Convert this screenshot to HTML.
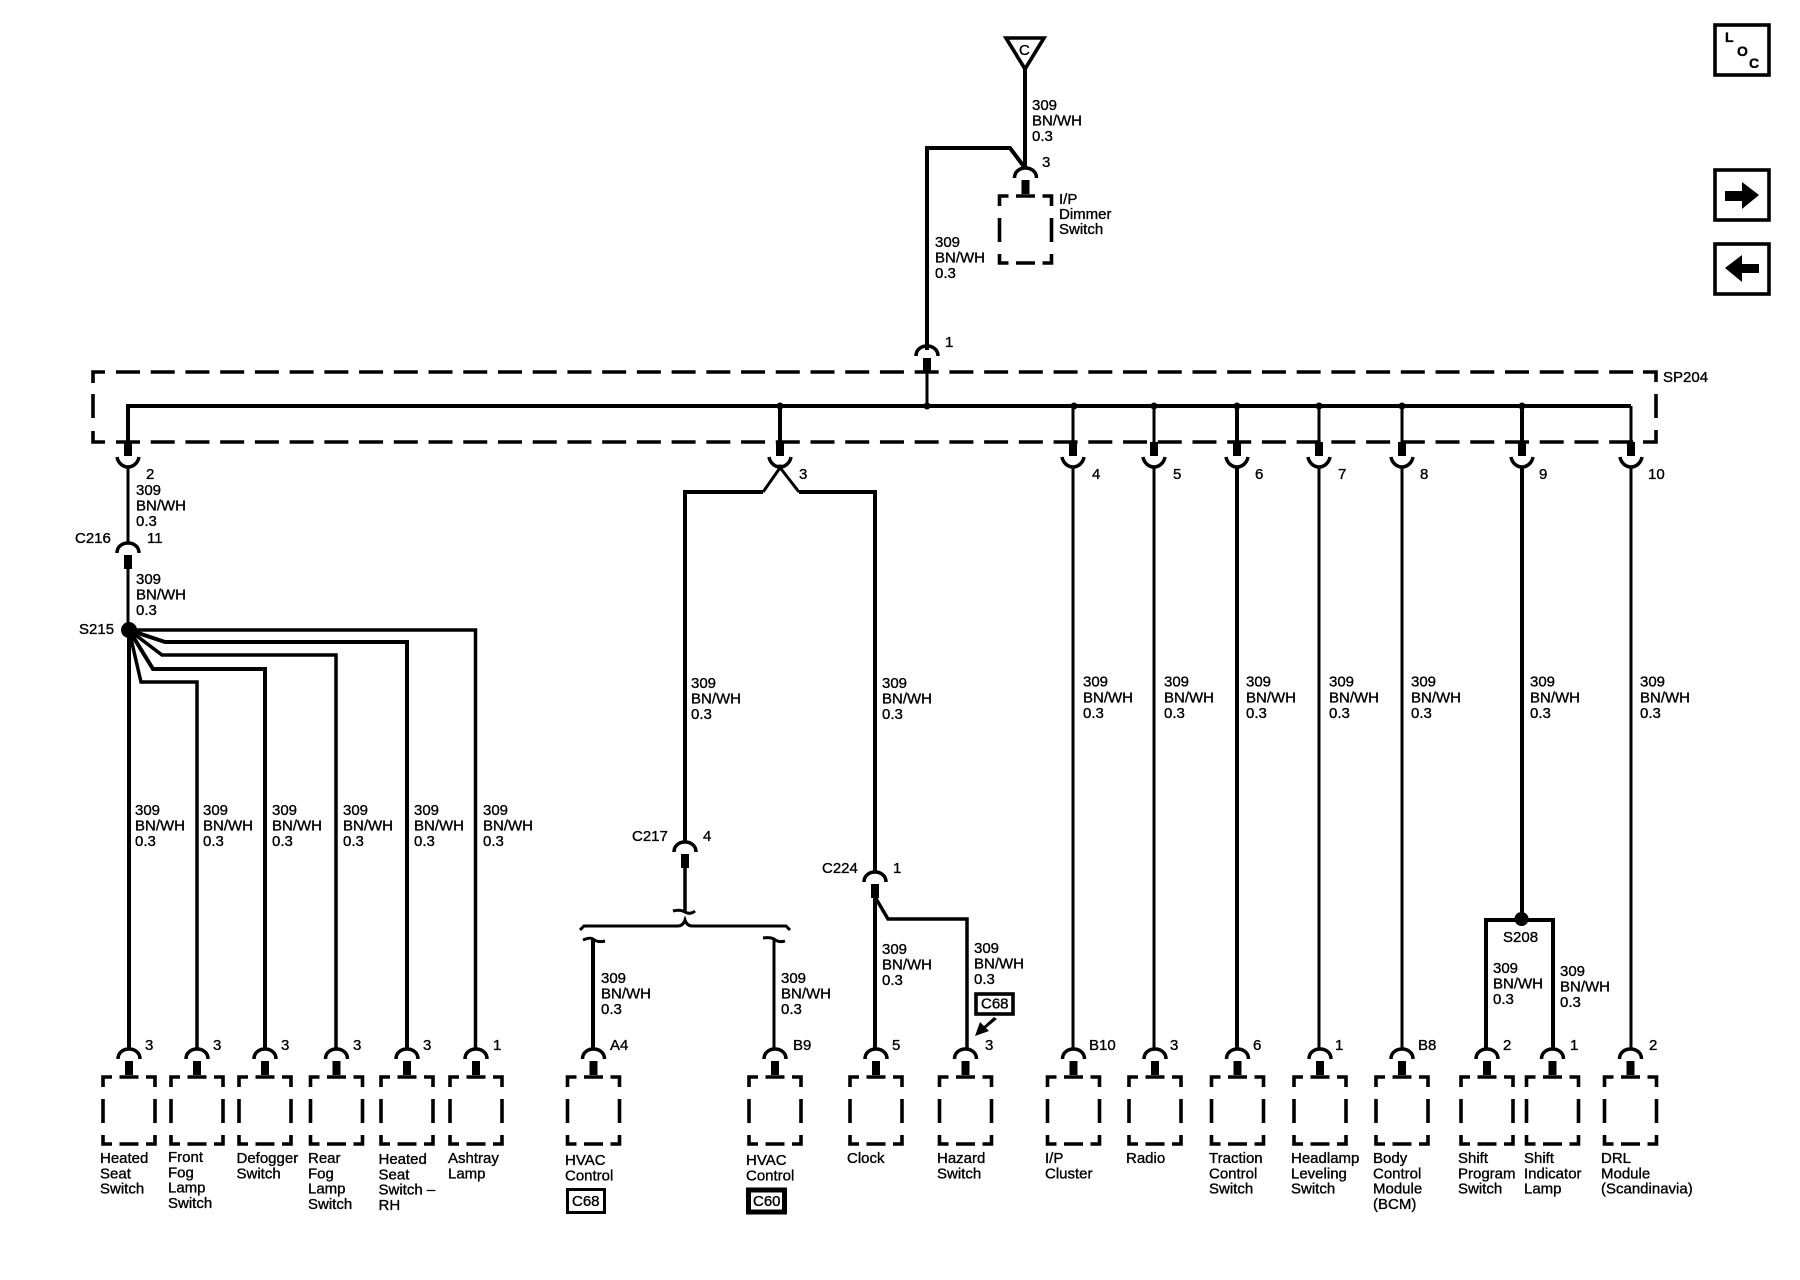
<!DOCTYPE html>
<html><head><meta charset="utf-8"><style>
html,body{margin:0;padding:0;background:#fff}
svg{display:block}
text{font-family:"Liberation Sans",Arial,sans-serif;font-size:15px;fill:#000;stroke:#000;stroke-width:.35}
.w{fill:none;stroke:#000;stroke-width:4;stroke-linejoin:miter}
.t{fill:none;stroke:#000;stroke-width:3}
.m{fill:none;stroke:#000;stroke-width:3.5}
.a{fill:none;stroke:#000;stroke-width:3.5}
.c{fill:none;stroke:#000;stroke-width:3}
.b{fill:none;stroke:#000;stroke-width:3.6}
</style></head><body>
<svg width="1800" height="1280" viewBox="0 0 1800 1280" xmlns="http://www.w3.org/2000/svg">
<defs>
<g id="a"><path class="a" d="M-11,11C-11,4 -5,1 0,1C5,1 11,4 11,11"/><rect x="-4" y="13" width="8" height="14"/></g>
<g id="u"><path class="a" d="M-11,457C-10,463 -5,467 0,467C5,467 10,463 11,457"/><rect x="-4" y="442" width="8" height="14"/></g>
<g id="d"><use href="#a" y="1048"/><path class="b" d="M-26,1087V1077H-17M-9.500,1077H9.500M17,1077H26V1087M-26,1099V1123M26,1099V1123M-26,1135V1144H-17M-9.500,1144H9.500M17,1144H26V1135"/></g>
</defs>
<rect width="1800" height="1280" fill="#fff"/>

<!-- top -->
<path class="b" d="M1006,38H1044L1025,69Z"/>
<text x="1019" y="55">C</text>
<path class="w" d="M1025,68V168M927,350V148H1010L1025,168"/>
<use href="#d" transform="translate(1025.5,-881)"/>
<text x="1032" y="110">309<tspan x="1032" dy="15.5">BN/WH</tspan><tspan x="1032" dy="15.5">0.3</tspan></text>
<text x="1042" y="167">3</text>
<text x="1059" y="204">I/P<tspan x="1059" dy="15">Dimmer</tspan><tspan x="1059" dy="15">Switch</tspan></text>
<text x="935" y="247">309<tspan x="935" dy="15.5">BN/WH</tspan><tspan x="935" dy="15.5">0.3</tspan></text>
<use href="#a" x="927" y="345"/>
<text x="945" y="347">1</text>
<path class="t" d="M927,370V406"/>

<!-- SP204 -->
<path class="b" d="M105,372H93V383M93,394V418M93,431V442H105M1643,372H1656V382M1656,394V418M1656,430V442H1643"/>
<path class="b" stroke-dasharray="24 10.725" d="M116,372H1634"/>
<path class="b" stroke-dasharray="24 10.725" d="M116,442H1634"/>
<text x="1663" y="382">SP204</text>
<path class="w" d="M128,442V406H1631"/>
<path class="t" d="M1631,406V442"/>
<circle cx="780" cy="406" r="3.5"/><circle cx="927" cy="406" r="3.5"/><circle cx="1074" cy="406" r="3.5"/><circle cx="1154" cy="406" r="3.5"/><circle cx="1237" cy="406" r="3.5"/><circle cx="1319" cy="406" r="3.5"/><circle cx="1402" cy="406" r="3.5"/><circle cx="1522" cy="406" r="3.5"/>
<path class="w" d="M780,406V442M1237,406V442M1522,406V442"/>
<path class="t" d="M1073,406V442M1154,406V442M1319,406V442M1402,406V442"/>
<use href="#u" x="128"/><use href="#u" x="780"/><use href="#u" x="1073"/><use href="#u" x="1154"/><use href="#u" x="1237"/><use href="#u" x="1319"/><use href="#u" x="1402"/><use href="#u" x="1522"/><use href="#u" x="1631"/>
<text x="146" y="479">2</text><text x="799" y="479">3</text><text x="1092" y="479">4</text><text x="1173" y="479">5</text><text x="1255" y="479">6</text><text x="1338" y="479">7</text><text x="1420" y="479">8</text><text x="1539" y="479">9</text><text x="1648" y="479">10</text>

<!-- left branch -->
<path class="t" d="M128,467V543"/>
<use href="#a" x="128" y="542"/>
<path class="t" d="M128,565V629"/>
<text x="136" y="495">309<tspan x="136" dy="15.5">BN/WH</tspan><tspan x="136" dy="15.5">0.3</tspan></text>
<text x="75" y="543">C216</text><text x="147" y="543">11</text>
<text x="136" y="584">309<tspan x="136" dy="15.5">BN/WH</tspan><tspan x="136" dy="15.5">0.3</tspan></text>
<text x="79" y="634">S215</text>
<circle cx="129" cy="630" r="8"/>
<path class="w" d="M129,630V1049M129,630L153,669H265V1049M129,630L165,642H407V1049"/>
<path class="m" d="M129,630H475.500V1049M129,630L162,655H336V1049"/>
<path class="m" d="M129,630L141,682H197V1049"/>
<text x="135" y="815">309<tspan x="135" dy="15.5">BN/WH</tspan><tspan x="135" dy="15.5">0.3</tspan></text>
<text x="203" y="815">309<tspan x="203" dy="15.5">BN/WH</tspan><tspan x="203" dy="15.5">0.3</tspan></text>
<text x="272" y="815">309<tspan x="272" dy="15.5">BN/WH</tspan><tspan x="272" dy="15.5">0.3</tspan></text>
<text x="343" y="815">309<tspan x="343" dy="15.5">BN/WH</tspan><tspan x="343" dy="15.5">0.3</tspan></text>
<text x="414" y="815">309<tspan x="414" dy="15.5">BN/WH</tspan><tspan x="414" dy="15.5">0.3</tspan></text>
<text x="483" y="815">309<tspan x="483" dy="15.5">BN/WH</tspan><tspan x="483" dy="15.5">0.3</tspan></text>

<!-- middle branch -->
<path class="t" d="M763,492L782,465M799,492L778,465"/>
<path class="w" d="M685,842V492H763M799,492H875V872"/>
<text x="691" y="688">309<tspan x="691" dy="15.5">BN/WH</tspan><tspan x="691" dy="15.5">0.3</tspan></text>
<text x="882" y="688">309<tspan x="882" dy="15.5">BN/WH</tspan><tspan x="882" dy="15.5">0.3</tspan></text>
<use href="#a" x="685" y="841"/>
<text x="632" y="841">C217</text><text x="703" y="841">4</text>
<path class="m" d="M685,865V911"/>
<path class="t" d="M673,911Q680,909 685,912Q690,915 695,911M580,930L584,926H678Q683,926 685,920Q687,926 692,926H786L790,930"/>
<path class="t" d="M583,940Q590,937 593,939Q598,943 605,941M763,938Q770,937 774,939Q779,943 785,941"/>
<path class="w" d="M593,939V1049"/><path class="t" d="M774,939V1049"/>
<text x="601" y="983">309<tspan x="601" dy="15.5">BN/WH</tspan><tspan x="601" dy="15.5">0.3</tspan></text>
<text x="781" y="983">309<tspan x="781" dy="15.5">BN/WH</tspan><tspan x="781" dy="15.5">0.3</tspan></text>
<use href="#a" x="875" y="871"/>
<text x="822" y="873">C224</text><text x="893" y="873">1</text>
<path class="w" d="M875,895V1049"/>
<path class="m" d="M875,897L888,919H967V1049"/>
<text x="882" y="954">309<tspan x="882" dy="15.5">BN/WH</tspan><tspan x="882" dy="15.5">0.3</tspan></text>
<text x="974" y="953">309<tspan x="974" dy="15.5">BN/WH</tspan><tspan x="974" dy="15.5">0.3</tspan></text>
<rect x="976" y="994" width="37" height="20" class="b"/>
<text x="981" y="1008.500">C68</text>
<path d="M994,1017L984,1026L980,1022L975,1036L989,1031L986,1028L997,1019Z"/>

<!-- right wires -->
<path class="t" d="M1073,467V1049M1154,467V1049M1319,467V1049M1402,467V1049M1631,467V1049"/>
<path class="w" d="M1237,467V1049M1522,467V919"/>
<path class="w" d="M1486,1049V920H1553V1049"/>
<circle cx="1521.500" cy="919" r="7"/>
<text x="1503" y="942">S208</text>
<text x="1083" y="686.500">309<tspan x="1083" dy="15.800">BN/WH</tspan><tspan x="1083" dy="15.800">0.3</tspan></text>
<text x="1164" y="686.500">309<tspan x="1164" dy="15.800">BN/WH</tspan><tspan x="1164" dy="15.800">0.3</tspan></text>
<text x="1246" y="686.500">309<tspan x="1246" dy="15.800">BN/WH</tspan><tspan x="1246" dy="15.800">0.3</tspan></text>
<text x="1329" y="686.500">309<tspan x="1329" dy="15.800">BN/WH</tspan><tspan x="1329" dy="15.800">0.3</tspan></text>
<text x="1411" y="686.500">309<tspan x="1411" dy="15.800">BN/WH</tspan><tspan x="1411" dy="15.800">0.3</tspan></text>
<text x="1530" y="686.500">309<tspan x="1530" dy="15.800">BN/WH</tspan><tspan x="1530" dy="15.800">0.3</tspan></text>
<text x="1640" y="686.500">309<tspan x="1640" dy="15.800">BN/WH</tspan><tspan x="1640" dy="15.800">0.3</tspan></text>
<text x="1493" y="973">309<tspan x="1493" dy="15.500">BN/WH</tspan><tspan x="1493" dy="15.500">0.3</tspan></text>
<text x="1560" y="976">309<tspan x="1560" dy="15.500">BN/WH</tspan><tspan x="1560" dy="15.500">0.3</tspan></text>

<!-- bottom devices -->
<use href="#d" x="129"/><use href="#d" x="197"/><use href="#d" x="265"/><use href="#d" x="336.500"/><use href="#d" x="407"/><use href="#d" x="476"/>
<use href="#d" x="593.500"/><use href="#d" x="775"/><use href="#d" x="876"/><use href="#d" x="965.500"/>
<use href="#d" x="1073.500"/><use href="#d" x="1155"/><use href="#d" x="1237.500"/><use href="#d" x="1320"/><use href="#d" x="1402"/><use href="#d" x="1487"/><use href="#d" x="1552.500"/><use href="#d" x="1630.500"/>

<text x="145" y="1050">3</text><text x="213" y="1050">3</text><text x="281" y="1050">3</text><text x="353" y="1050">3</text><text x="423" y="1050">3</text><text x="493" y="1050">1</text>
<text x="610" y="1050">A4</text><text x="793" y="1050">B9</text><text x="892" y="1050">5</text><text x="985" y="1050">3</text>
<text x="1089" y="1050">B10</text><text x="1170" y="1050">3</text><text x="1253" y="1050">6</text><text x="1335" y="1050">1</text><text x="1418" y="1050">B8</text><text x="1503" y="1050">2</text><text x="1570" y="1050">1</text><text x="1649" y="1050">2</text>

<text x="100" y="1163">Heated<tspan x="100" dy="15.300">Seat</tspan><tspan x="100" dy="15.300">Switch</tspan></text>
<text x="168" y="1162">Front<tspan x="168" dy="15.300">Fog</tspan><tspan x="168" dy="15.300">Lamp</tspan><tspan x="168" dy="15.300">Switch</tspan></text>
<text x="236.500" y="1163">Defogger<tspan x="236.500" dy="15.300">Switch</tspan></text>
<text x="308" y="1163">Rear<tspan x="308" dy="15.300">Fog</tspan><tspan x="308" dy="15.300">Lamp</tspan><tspan x="308" dy="15.300">Switch</tspan></text>
<text x="378.500" y="1164">Heated<tspan x="378.500" dy="15.300">Seat</tspan><tspan x="378.500" dy="15.300">Switch –</tspan><tspan x="378.500" dy="15.300">RH</tspan></text>
<text x="448" y="1163">Ashtray<tspan x="448" dy="15.300">Lamp</tspan></text>
<text x="565" y="1165">HVAC<tspan x="565" dy="15.300">Control</tspan></text>
<text x="746" y="1165">HVAC<tspan x="746" dy="15.300">Control</tspan></text>
<rect x="567.500" y="1189.500" width="37" height="23" class="c"/>
<text x="572" y="1206">C68</text>
<rect x="748.500" y="1190" width="36" height="22" fill="none" stroke="#000" stroke-width="5"/>
<text x="753" y="1206">C60</text>
<text x="847" y="1163">Clock</text>
<text x="937" y="1163">Hazard<tspan x="937" dy="15.300">Switch</tspan></text>
<text x="1045" y="1163">I/P<tspan x="1045" dy="15.300">Cluster</tspan></text>
<text x="1126" y="1163">Radio</text>
<text x="1209" y="1163">Traction<tspan x="1209" dy="15.300">Control</tspan><tspan x="1209" dy="15.300">Switch</tspan></text>
<text x="1291" y="1163">Headlamp<tspan x="1291" dy="15.300">Leveling</tspan><tspan x="1291" dy="15.300">Switch</tspan></text>
<text x="1373" y="1163">Body<tspan x="1373" dy="15.300">Control</tspan><tspan x="1373" dy="15.300">Module</tspan><tspan x="1373" dy="15.300">(BCM)</tspan></text>
<text x="1458" y="1163">Shift<tspan x="1458" dy="15.300">Program</tspan><tspan x="1458" dy="15.300">Switch</tspan></text>
<text x="1524" y="1163">Shift<tspan x="1524" dy="15.300">Indicator</tspan><tspan x="1524" dy="15.300">Lamp</tspan></text>
<text x="1601" y="1163">DRL<tspan x="1601" dy="15.300">Module</tspan><tspan x="1601" dy="15.300">(Scandinavia)</tspan></text>

<!-- icons -->
<rect x="1715" y="25" width="54" height="50" class="b"/>
<text x="1725" y="42" style="font-size:14px;font-weight:bold">L</text>
<text x="1737" y="56" style="font-size:14px;font-weight:bold">O</text>
<text x="1749" y="68" style="font-size:14px;font-weight:bold">C</text>
<rect x="1715" y="170" width="54" height="50" class="b"/>
<path d="M1725,191H1742V182L1759,195L1742,209V201H1725Z"/>
<rect x="1715" y="244" width="54" height="50" class="b"/>
<path d="M1759,264H1742V255L1725,268L1742,282V273H1759Z"/>
</svg>
</body></html>
